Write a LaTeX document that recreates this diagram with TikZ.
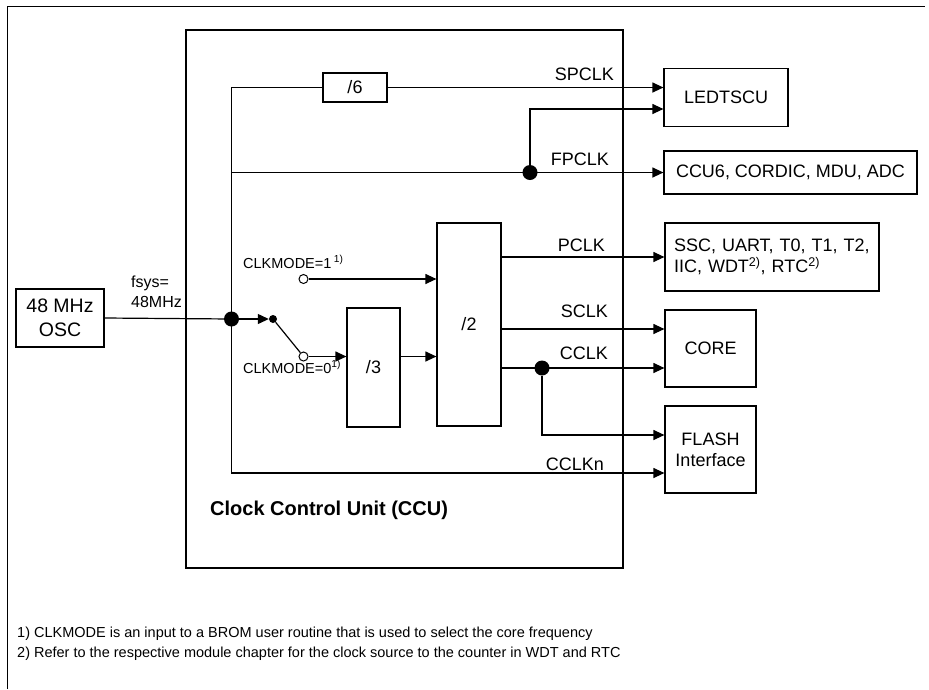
\documentclass[tikz,border=0pt]{standalone}
\usepackage{fontspec}
\setmainfont{Liberation Sans}
\usetikzlibrary{arrows.meta, positioning, calc}

\begin{document}
\begin{tikzpicture}[x=1pt, y=-1pt,
  box/.style={draw, line width=1.2pt, inner sep=0pt, align=center,
              font=\fontsize{18}{21}\selectfont},
  arr/.style={-{Triangle[length=11pt, width=10pt]}, line width=1.2pt},
  sig/.style={line width=1.2pt},
  lbl/.style={anchor=base east, inner sep=0pt, font=\fontsize{18}{21}\selectfont},
  small/.style={anchor=base west, inner sep=0pt, font=\fontsize{14.5}{17}\selectfont},
  dot/.style={circle, fill, inner sep=0pt, minimum size=15pt},
  sdot/.style={circle, fill, inner sep=0pt, minimum size=8pt},
  odot/.style={circle, draw, fill=white, line width=1pt, inner sep=0pt, minimum size=9pt}
]
  \useasboundingbox (0,0) rectangle (929,689);

  % outer frame
  \draw[line width=1pt] (7,689) -- (7,6) -- (925,6);

  % Clock Control Unit
  \node[draw, line width=2.2pt, minimum width=437pt, minimum height=538pt] (ccu) at (404.5,299) {};
  \node[anchor=base west, inner sep=0pt, font=\bfseries\fontsize{20}{24}\selectfont]
    (ccutitle) at (210,515) {Clock Control Unit (CCU)};

  % oscillator
  \node[box, minimum width=88pt, minimum height=58pt, font=\fontsize{19.5}{24}\selectfont]
    (osc) at (60,318) {48 MHz\\OSC};
  \node[anchor=north west, inner sep=0pt, align=left, font=\fontsize{16}{20}\selectfont]
    (fsys) at (131,276) {fsys=\\48MHz};

  % dividers
  \node[box, minimum width=64pt, minimum height=29pt] (div6) at (355,87.5) {/6};
  \node[box, minimum width=53pt, minimum height=119pt] (div3) at (373.5,367.5) {/3};
  \node[box, minimum width=64pt, minimum height=203pt] (div2) at (469,324.5) {/2};

  % modules
  \node[box, minimum width=124pt, minimum height=58pt] (ledts) at (726,97.5) {LEDTSCU};
  \node[box, minimum width=253pt, minimum height=43pt] (ccu6) at (790.5,172.5) {CCU6, CORDIC, MDU, ADC};
  \node[box, minimum width=214pt, minimum height=68pt, align=left, text width=196pt]
    (ssc) at (772,257) {SSC, UART, T0, T1, T2,\\IIC, WDT\textsuperscript{2)}, RTC\textsuperscript{2)}};
  \node[box, minimum width=91pt, minimum height=77pt] (core) at (710.5,348.5) {CORE};
  \node[box, minimum width=91pt, minimum height=87pt] (flash) at (710.5,449.5) {FLASH\\Interface};

  % clock bus
  \coordinate (fork) at (231.5,319);
  \coordinate (busbot) at (231.5,473);
  \coordinate (fpin) at ([yshift=-11.5pt]ledts.west);
  \coordinate (sclk) at ([yshift=19.5pt]core.west);
  \coordinate (cclk) at ([yshift=-19.5pt]core.west);
  \coordinate (flin) at ([yshift=14.5pt]flash.west);

  \draw[arr] (div6.west) -| (busbot) -- (busbot -| flash.west);
  \draw[arr] (div6.east) -- (div6.east -| ledts.west);
  \draw[arr] (fork |- ccu6.west) -- (ccu6.west);
  \node[dot] (fpdot) at (530,172.5) {};
  \draw[arr] (fpdot) |- (fpin);

  % clock mode switch
  \draw[sig] (osc.east) -- (fork);
  \node[dot] (forkdot) at (fork) {};
  \node[sdot] (swin) at (273,319) {};
  \draw[arr] (forkdot) -- (swin.west);
  \node[odot] (sw0) at (303.5,356.5) {};
  \node[odot] (sw1) at (303.5,279) {};
  \draw[sig] (swin) -- (sw0);
  \draw[arr] (sw0) -- (sw0 -| div3.west);
  \draw[arr] (sw1) -- (sw1 -| div2.west);
  \draw[arr] (sw0 -| div3.east) -- (sw0 -| div2.west);

  % outputs of /2
  \draw[arr] (div2.east |- ssc.west) -- (ssc.west);
  \draw[arr] (div2.east |- sclk) -- (sclk);
  \draw[arr] (div2.east |- cclk) -- (cclk);
  \node[dot] (cdot) at (542,368) {};
  \draw[arr] (cdot) |- (flin);

  % clock labels
  \node[lbl] (spclk) at (614,80) {SPCLK};
  \node[lbl] (fpclk) at (609,165) {FPCLK};
  \node[lbl] (pclk) at (605,251) {PCLK};
  \node[lbl] (sclklbl) at (608,317) {SCLK};
  \node[lbl] (cclklbl) at (608,359) {CCLK};
  \node[lbl] (cclkn) at (604,470) {CCLKn};
  \node[small] (mode1) at (243,268) {CLKMODE=1\,\textsuperscript{1)}};
  \node[small] (mode0) at (243,373) {CLKMODE=0\textsuperscript{1)}};

  % footnotes
  \node[anchor=north west, inner sep=0pt, align=left, font=\fontsize{14.5}{20}\selectfont]
    (notes) at (17,627) {1) CLKMODE is an input to a BROM user routine that is used to select the core frequency\\
    2) Refer to the respective module chapter for the clock source to the counter in WDT and RTC};
\end{tikzpicture}
\end{document}
